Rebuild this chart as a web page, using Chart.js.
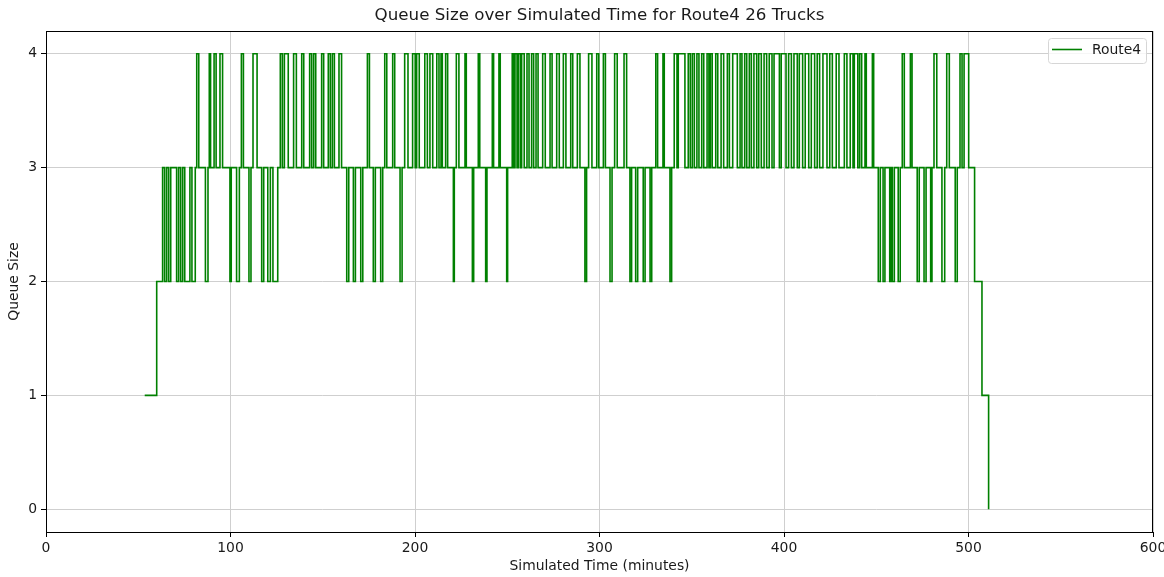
<!DOCTYPE html>
<html>
<head>
<meta charset="utf-8">
<script src="https://cdn.jsdelivr.net/npm/chart.js@4.4.1/dist/chart.umd.min.js"></script>
<style>
  html, body { margin: 0; padding: 0; background: #fff; }
  canvas { display: block; }
</style>
</head>
<body>
<canvas id="queueChart" width="1164" height="577"></canvas>
<script>
// Labels
const chartTitle = 'Queue Size over Simulated Time for Route4 26 Trucks';
const seriesName = 'Route4';
const xAxisLabel = 'Simulated Time (minutes)';
const yAxisLabel = 'Queue Size';
const xTicks = [0, 100, 200, 300, 400, 500, 600];
const yTicks = [0, 1, 2, 3, 4];

// Times (minutes) at which the queue size changes
const eventTimes = [
  53.5, 60.0, 63.2, 64.3, 65.4, 66.5, 67.6, 70.8, 71.9, 73.0,
  74.1, 75.2, 78.0, 79.1, 80.9, 81.7, 82.8, 86.4, 87.8, 88.5,
  89.2, 91.1, 92.2, 94.3, 95.7, 99.7, 100.4, 103.3, 104.8, 105.9,
  107.0, 110.0, 111.1, 112.2, 114.4, 116.9, 118.0, 120.2, 121.6, 123.0,
  125.6, 127.0, 128.1, 129.2, 131.3, 134.2, 135.7, 138.6, 139.7, 142.9,
  144.0, 145.1, 146.2, 149.4, 150.5, 153.0, 154.1, 155.2, 156.3, 158.8,
  160.2,
  163.0, 164.1, 166.6, 167.7, 170.6, 171.7, 174.2, 175.3, 177.4, 178.5,
  181.4, 182.5, 183.6, 184.7, 187.9, 189.0, 191.9, 193.0, 194.4, 196.2,
  198.7, 200.1, 200.9, 202.3, 205.3, 206.7, 208.1, 209.6, 211.8, 213.0,
  214.1, 214.8, 216.6, 217.7, 220.8, 221.3, 222.4, 223.8, 227.1, 227.8,
  231.1, 231.8, 234.3, 235.1, 238.3, 239.0, 241.9, 242.6, 245.5, 246.2,
  249.7, 250.2,
  252.7, 253.5, 254.2, 255.3, 256.0, 257.1, 257.8, 259.2, 260.7, 261.8, 263.2, 264.3,
  265.6, 266.7, 269.2, 270.6, 273.2, 274.3, 276.8, 278.2, 280.4, 281.8,
  284.4, 285.5, 288.0, 289.4, 292.1, 293.0, 294.1, 295.9, 298.5, 299.6,
  302.1, 303.2, 305.7, 306.8, 308.2, 309.6, 313.3, 314.7,
  316.5, 317.4, 319.6, 320.7, 323.7, 324.7, 327.4, 328.3, 330.5, 331.5,
  334.4, 335.1, 338.2, 339.1, 340.5, 342.0, 342.7, 346.3,
  348.1, 349.2, 350.3, 351.4, 352.8, 353.9, 355.4, 356.5, 358.3, 359.3,
  360.1, 361.1, 363.0, 364.1, 365.9, 367.3,
  369.3, 370.4, 372.2, 374.7, 376.2, 377.2, 378.7, 379.8, 381.2, 382.3,
  383.7, 385.2, 386.3, 387.7, 389.2, 390.6, 392.0, 393.5, 394.6, 397.5,
  398.5, 401.1, 402.5, 404.0, 405.4, 407.2, 408.3, 410.1, 411.5, 413.4,
  414.8, 416.6, 418.0, 419.3,
  421.1, 423.3, 424.8, 426.2, 428.3, 429.8, 432.7, 434.1, 435.9, 437.4,
  438.1, 440.0, 441.0, 442.1, 443.9, 444.6, 447.9, 448.6, 451.1, 452.2,
  453.7, 454.7, 457.3, 458.0, 458.7, 459.8, 461.9, 463.0, 464.1, 465.2,
  468.5, 469.4,
  472.2, 473.3, 475.9, 477.0, 479.5, 480.2, 481.3, 482.8, 485.6, 487.1,
  488.2, 489.6, 492.8, 493.9, 495.4, 496.5, 497.6, 500.1, 503.3, 507.3,
  510.9
];

// Queue size that holds from each event time until the next one
const queueLevels = [
  1, 2, 3, 2, 3, 2, 3, 2, 3, 2,
  3, 2, 3, 2, 3, 4, 3, 2, 3, 4,
  3, 4, 3, 4, 3, 2, 3, 2, 3, 4,
  3, 2, 3, 4, 3, 2, 3, 2, 3, 2,
  3, 4, 3, 4, 3, 4, 3, 4, 3, 4,
  3, 4, 3, 4, 3, 4, 3, 4, 3, 4,
  3,
  2, 3, 2, 3, 2, 3, 4, 3, 2, 3,
  2, 3, 4, 3, 4, 3, 2, 3, 4, 3,
  4, 3, 4, 3, 4, 3, 4, 3, 4, 3,
  4, 3, 4, 3, 2, 3, 4, 3, 4, 3,
  2, 3, 4, 3, 2, 3, 4, 3, 4, 3,
  2, 3,
  4, 3, 4, 3, 4, 3, 4, 3, 4, 3, 4, 3,
  4, 3, 4, 3, 4, 3, 4, 3, 4, 3,
  4, 3, 4, 3, 2, 3, 4, 3, 4, 3,
  4, 3, 2, 3, 4, 3, 4, 3,
  2, 3, 2, 3, 2, 3, 2, 3, 4, 3,
  4, 3, 2, 3, 4, 3, 4, 3,
  4, 3, 4, 3, 4, 3, 4, 3, 4, 3,
  4, 3, 4, 3, 4, 3,
  4, 3, 4, 3, 4, 3, 4, 3, 4, 3,
  4, 3, 4, 3, 4, 3, 4, 3, 4, 3,
  4, 3, 4, 3, 4, 3, 4, 3, 4, 3,
  4, 3, 4, 3,
  4, 3, 4, 3, 4, 3, 4, 3, 4, 3,
  4, 3, 4, 3, 4, 3, 4, 3, 2, 3,
  2, 3, 2, 3, 2, 3, 2, 3, 4, 3,
  4, 3,
  2, 3, 2, 3, 2, 3, 4, 3, 2, 3,
  4, 3, 2, 3, 4, 3, 4, 3, 2, 1,
  0
];

const lineColor = '#008000';
const gridColor = '#cfcfcf';
const textColor = '#1a1a1a';
const fontFamily = "'DejaVu Sans', 'Liberation Sans', sans-serif";
const labelSize = 13.9;
const titleSize = 16.7;

const points = eventTimes.map((t, i) => ({ x: t, y: queueLevels[i] }));

// Draws the title centred over the plot, the four spines and the legend box
const framePlugin = {
  id: 'frameAndLegend',
  afterDraw(chart) {
    const { ctx, chartArea: a } = chart;
    ctx.save();

    ctx.fillStyle = textColor;
    ctx.font = `${titleSize}px ${fontFamily}`;
    ctx.textAlign = 'center';
    ctx.textBaseline = 'middle';
    ctx.fillText(chartTitle, (a.left + a.right) / 2, 16);

    ctx.strokeStyle = '#000';
    ctx.lineWidth = 1;
    ctx.strokeRect(Math.round(a.left) + 0.5, Math.round(a.top) + 0.5,
                   Math.round(a.right - a.left) - 1, Math.round(a.bottom - a.top));

    // legend
    const bx = a.right - 105, by = a.top + 7, bw = 98, bh = 25;
    ctx.fillStyle = 'rgba(255,255,255,0.8)';
    ctx.strokeStyle = '#d6d6d6';
    ctx.lineWidth = 1;
    ctx.beginPath();
    ctx.roundRect(bx + 0.5, by + 0.5, bw, bh, 3);
    ctx.fill();
    ctx.stroke();
    ctx.strokeStyle = lineColor;
    ctx.lineWidth = 1.6;
    ctx.beginPath();
    ctx.moveTo(bx + 4, by + 11.5);
    ctx.lineTo(bx + 34, by + 11.5);
    ctx.stroke();
    ctx.fillStyle = textColor;
    ctx.font = `${labelSize}px ${fontFamily}`;
    ctx.textAlign = 'left';
    ctx.textBaseline = 'middle';
    ctx.fillText(seriesName, bx + 44, by + 12);
    ctx.restore();
  }
};

new Chart(document.getElementById('queueChart'), {
  type: 'line',
  data: {
    datasets: [{
      label: seriesName,
      data: points,
      stepped: 'before',
      borderColor: lineColor,
      borderWidth: 1.6,
      pointRadius: 0,
      fill: false
    }]
  },
  options: {
    responsive: false,
    animation: false,
    events: [],
    layout: { padding: { left: 0, right: 11, top: 31, bottom: 0 } },
    plugins: {
      legend: { display: false },
      tooltip: { enabled: false },
      title: { display: false }
    },
    scales: {
      x: {
        type: 'linear',
        min: 0,
        max: 600,
        afterBuildTicks(scale) { scale.ticks = xTicks.map(v => ({ value: v })); },
        afterFit(scale) {
          scale.height = 45;
          scale.paddingLeft = 0;
          scale.paddingRight = 0;
        },
        ticks: {
          color: textColor,
          padding: 3,
          maxRotation: 0,
          font: { family: fontFamily, size: labelSize }
        },
        grid: {
          color: gridColor,
          lineWidth: 1,
          tickColor: '#000',
          tickLength: 5,
          tickWidth: 1
        },
        border: { display: false },
        title: {
          display: true,
          text: xAxisLabel,
          color: textColor,
          font: { family: fontFamily, size: labelSize, lineHeight: 1.2 },
          padding: { top: 0, bottom: 2.7 }
        }
      },
      y: {
        type: 'linear',
        min: -0.2,
        max: 4.2,
        afterBuildTicks(scale) { scale.ticks = yTicks.map(v => ({ value: v })); },
        afterFit(scale) {
          scale.width = 46;
          scale.paddingTop = 0;
          scale.paddingBottom = 0;
        },
        ticks: {
          color: textColor,
          padding: 4,
          font: { family: fontFamily, size: labelSize }
        },
        grid: {
          color: gridColor,
          lineWidth: 1,
          tickColor: '#000',
          tickLength: 5,
          tickWidth: 1
        },
        border: { display: false },
        title: {
          display: true,
          text: yAxisLabel,
          color: textColor,
          font: { family: fontFamily, size: labelSize, lineHeight: 1.2 },
          padding: { top: 5.7, bottom: 0 }
        }
      }
    }
  },
  plugins: [framePlugin]
});
</script>
</body>
</html>
